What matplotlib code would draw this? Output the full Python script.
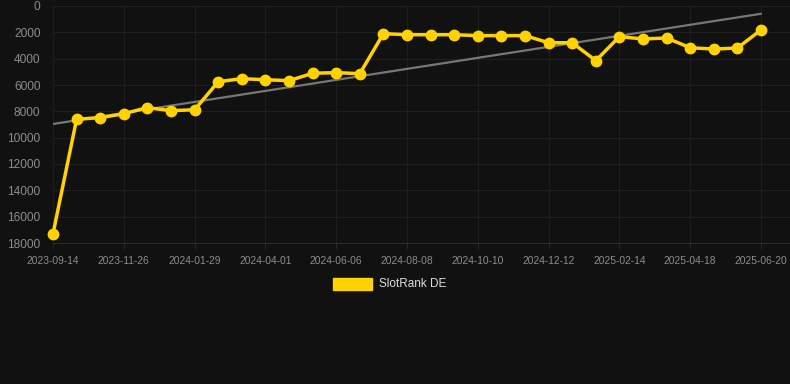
import matplotlib
matplotlib.use("Agg")
import matplotlib.pyplot as plt
import numpy as np
from matplotlib.patches import Rectangle

dates = ["2023-09-14", "2023-10-08", "2023-11-01", "2023-11-26", "2023-12-17", "2024-01-08",
         "2024-01-29", "2024-02-19", "2024-03-11", "2024-04-01", "2024-04-23", "2024-05-15",
         "2024-06-06", "2024-06-27", "2024-07-18", "2024-08-08", "2024-08-29", "2024-09-19",
         "2024-10-10", "2024-10-31", "2024-11-21", "2024-12-12", "2025-01-02", "2025-01-24",
         "2025-02-14", "2025-03-07", "2025-03-28", "2025-04-18", "2025-05-09", "2025-05-30",
         "2025-06-20"]
rank = [17300, 8600, 8480, 8180, 7720, 7950, 7880, 5750, 5520, 5600, 5670, 5110, 5060, 5140,
        2100, 2180, 2180, 2180, 2250, 2250, 2250, 2790, 2790, 4150, 2330, 2500, 2430, 3170,
        3270, 3190, 1820]
trend_ends = [8960, 590]
yticks = list(range(0, 18001, 2000))
series_name = "SlotRank DE"

BG = "#111111"
YEL = "#ffd200"
W, H = 790, 384
fig = plt.figure(figsize=(W / 100, H / 100), dpi=100, facecolor=BG)
ax = fig.add_axes([53 / W, 1 - 243 / H, 1 - 53 / W, (243 - 6) / H])
ax.set_facecolor(BG)

x = np.arange(len(rank))
ax.plot([x[0], x[-1]], trend_ends, color="#777777", lw=1.6, zorder=2, solid_capstyle="round")
ax.plot(x, rank, color=YEL, lw=2.5, marker="o", ms=7.5, mfc=YEL, mec=YEL, zorder=3, clip_on=False)

ax.set_ylim(18000, 0)
ax.set_xlim(0, 30 + 29 / 23.6)
ax.set_yticks(yticks)
ax.set_yticklabels([str(v) for v in yticks], fontsize=8.6, color="#8c8c8c", family="Liberation Sans")
lab_idx = list(range(0, len(dates), 3))
ax.set_xticks(lab_idx)
ax.set_xticklabels([dates[i] for i in lab_idx], fontsize=7.4, color="#8c8c8c", family="Liberation Sans")
ax.tick_params(axis="y", length=0, pad=9)
ax.tick_params(axis="x", length=4, color="#262626", pad=5)
ax.grid(True, color="#1f1f1f", lw=0.8)
ax.set_axisbelow(True)
for s in ["top", "right", "left"]:
    ax.spines[s].set_visible(False)
ax.spines["bottom"].set_color("#2a2a2a")

fig.patches.append(Rectangle((333 / W, 1 - 290 / H), 39 / W, 12 / H, transform=fig.transFigure,
                             facecolor=YEL, edgecolor=YEL))
fig.text(379 / W, 1 - 284 / H, series_name, fontsize=8.5, color="#dddddd", va="center",
         family="Liberation Sans")

fig.savefig("out.png", dpi=100, facecolor=BG)
